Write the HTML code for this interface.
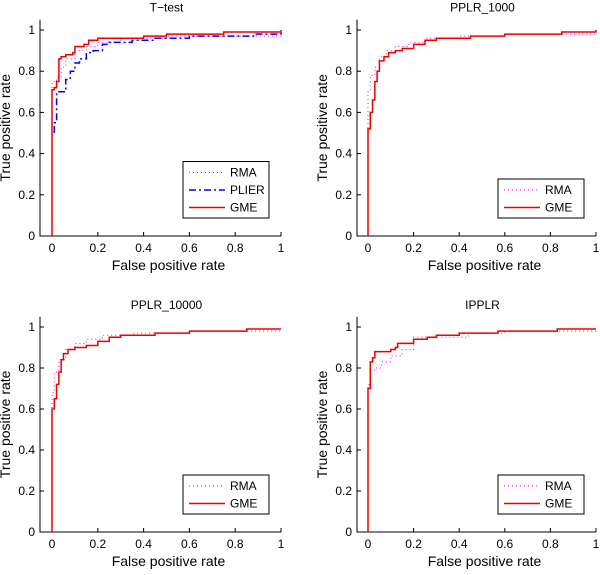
<!DOCTYPE html>
<html><head><meta charset="utf-8"><style>
body{margin:0;background:#fff}
svg text{font-family:"Liberation Sans",sans-serif;fill:#000}
</style></head><body>
<svg id="c" width="600" height="570" viewBox="0 0 600 570" xmlns="http://www.w3.org/2000/svg"></svg>
<script>
const xTicks=[0,0.2,0.4,0.6,0.8,1];
const yTicks=[0,0.2,0.4,0.6,0.8,1];
const xTickLabels=["0","0.2","0.4","0.6","0.8","1"];
const yTickLabels=["0","0.2","0.4","0.6","0.8","1"];
const panelTitles=["T\u2212test","PPLR_1000","PPLR_10000","IPPLR"];
const ttestGME=[[0,0],[0,0.71],[0.01,0.72],[0.02,0.75],[0.03,0.76],[0.03,0.86],[0.04,0.87],[0.06,0.88],[0.09,0.89],[0.1,0.92],[0.14,0.93],[0.16,0.95],[0.2,0.96],[0.4,0.97],[0.5,0.98],[0.75,0.99],[1,1]];
const ttestPLIER=[[0.01,0.5],[0.01,0.55],[0.02,0.55],[0.02,0.7],[0.04,0.7],[0.06,0.76],[0.08,0.8],[0.1,0.84],[0.12,0.86],[0.15,0.89],[0.18,0.9],[0.22,0.93],[0.25,0.94],[0.35,0.95],[0.45,0.96],[0.6,0.97],[0.85,0.97],[0.88,0.98],[1,0.99]];
const ttestRMA=[[0,0],[0,0.75],[0.02,0.77],[0.04,0.82],[0.06,0.86],[0.1,0.9],[0.15,0.92],[0.2,0.94],[0.3,0.96],[0.5,0.97],[1,0.99]];
const p1000GME=[[0,0],[0,0.52],[0.01,0.6],[0.02,0.66],[0.03,0.7],[0.03,0.75],[0.04,0.8],[0.05,0.85],[0.07,0.87],[0.09,0.89],[0.12,0.9],[0.15,0.91],[0.2,0.93],[0.25,0.95],[0.3,0.96],[0.45,0.97],[0.6,0.98],[0.85,0.99],[1,1]];
const p1000RMA=[[0,0],[0,0.7],[0.01,0.78],[0.03,0.82],[0.05,0.87],[0.08,0.9],[0.12,0.92],[0.18,0.94],[0.25,0.96],[0.4,0.97],[0.6,0.98],[1,0.99]];
const p10000GME=[[0,0],[0,0.6],[0.01,0.65],[0.02,0.72],[0.03,0.78],[0.04,0.84],[0.05,0.87],[0.07,0.89],[0.1,0.9],[0.15,0.91],[0.2,0.93],[0.25,0.95],[0.3,0.96],[0.45,0.97],[0.6,0.98],[0.85,0.99],[1,0.99]];
const p10000RMA=[[0,0],[0,0.68],[0.01,0.78],[0.03,0.84],[0.06,0.89],[0.1,0.92],[0.15,0.94],[0.22,0.96],[0.35,0.97],[0.6,0.98],[1,0.99]];
const ipplrGME=[[0,0],[0,0.7],[0.01,0.8],[0.01,0.83],[0.02,0.85],[0.03,0.87],[0.03,0.88],[0.08,0.88],[0.1,0.89],[0.12,0.9],[0.13,0.92],[0.2,0.93],[0.2,0.94],[0.26,0.95],[0.3,0.96],[0.4,0.97],[0.57,0.98],[0.83,0.99],[1,0.99]];
const ipplrRMA=[[0,0],[0,0.72],[0.01,0.79],[0.03,0.8],[0.06,0.83],[0.1,0.86],[0.15,0.89],[0.2,0.95],[0.44,0.97],[0.6,0.98],[1,0.99]];
const panelData=[
 [["RMA",ttestRMA],["PLIER",ttestPLIER],["GME",ttestGME]],
 [["RMA",p1000RMA],["GME",p1000GME]],
 [["RMA",p10000RMA],["GME",p10000GME]],
 [["RMA",ipplrRMA],["GME",ipplrGME]]];
const styles={RMA:{c:"#ff00ff",d:"1,3",w:1},PLIER:{c:"#0000ff",d:"7,3,2,3",w:1.5},GME:{c:"#ee0000",d:"",w:1.5}};
const boxes=[{l:40,x0:52,x1:281,y0:236,y1:30},{l:357,x0:368,x1:596,y0:236,y1:30},{l:40,x0:52,x1:281,y0:532,y1:327},{l:357,x0:368,x1:596,y0:532,y1:327}];
const svg=document.getElementById('c');
const NS="http://www.w3.org/2000/svg";
function mk(t,a,p){const e=document.createElementNS(NS,t);for(const k in a)e.setAttribute(k,a[k]);(p||svg).appendChild(e);return e;}
panelData.forEach((series,i)=>{
 const b=boxes[i];
 const sx=v=>b.x0+v*(b.x1-b.x0), sy=v=>b.y0-v*(b.y0-b.y1);
 const g=mk('g',{});
 
 
 const top=sy(1.05);
 const ax=mk('path',{d:`M${b.l},${top}V${b.y0}H${b.x1}`,stroke:"#000",fill:"none","stroke-width":1},g);
 
 
 xTicks.forEach((v,k)=>{
  mk('line',{x1:sx(v),x2:sx(v),y1:b.y0,y2:b.y0-4,stroke:"#000"},g);
  const t=mk('text',{x:sx(v),y:b.y0+16,"font-size":12,"text-anchor":"middle"},g);t.textContent=xTickLabels[k];
  
  
 });
 yTicks.forEach((v,k)=>{
  mk('line',{x1:b.l,x2:b.l+4,y1:sy(v),y2:sy(v),stroke:"#000"},g);
  const t=mk('text',{x:b.l-5,y:sy(v)+4,"font-size":12,"text-anchor":"end"},g);t.textContent=yTickLabels[k];
  
  
 });
 const cx=(b.l+b.x1)/2;
 const tt=mk('text',{x:cx+6,y:top-8,"font-size":12,"text-anchor":"middle"},g);tt.textContent=panelTitles[i];
 
 
 const xl=mk('text',{x:cx+8,y:b.y0+34,"font-size":14,"text-anchor":"middle"},g);xl.textContent="False positive rate";
 
 
 const yc=(top+b.y0)/2;
 const yl=mk('text',{x:b.l-30,y:yc,"font-size":14,"text-anchor":"middle",transform:`rotate(-90 ${b.l-30} ${yc})`},g);yl.textContent="True positive rate";
 
 
 series.forEach(([name,pts])=>{
  let d=`M${sx(pts[0][0])},${sy(pts[0][1])}`;
  for(let j=1;j<pts.length;j++){d+=`H${sx(pts[j][0])}V${sy(pts[j][1])}`;}
  const s=styles[name];
  const p=mk('path',{d:d,stroke:s.c,fill:"none","stroke-width":s.w,"stroke-dasharray":s.d},g);
  
  
 });
 const n=series.length, lw=86, lh=n*17.5+4;
 const lx=b.x1-lw-12, ly=b.y0-18-lh;
 const lg=mk('g',{},g);
 
 
 mk('rect',{x:lx,y:ly,width:lw,height:lh,fill:"#fff",stroke:"#000"},lg);
 series.forEach(([name],k)=>{
  const s=styles[name], yy=ly+11+k*17.5;
  mk('line',{x1:lx+6,x2:lx+42,y1:yy,y2:yy,stroke:s.c,"stroke-width":s.w,"stroke-dasharray":s.d},lg);
  const t=mk('text',{x:lx+47,y:yy+4,"font-size":12},lg);t.textContent=name;
  
  
 });
});
</script>
</body></html>
